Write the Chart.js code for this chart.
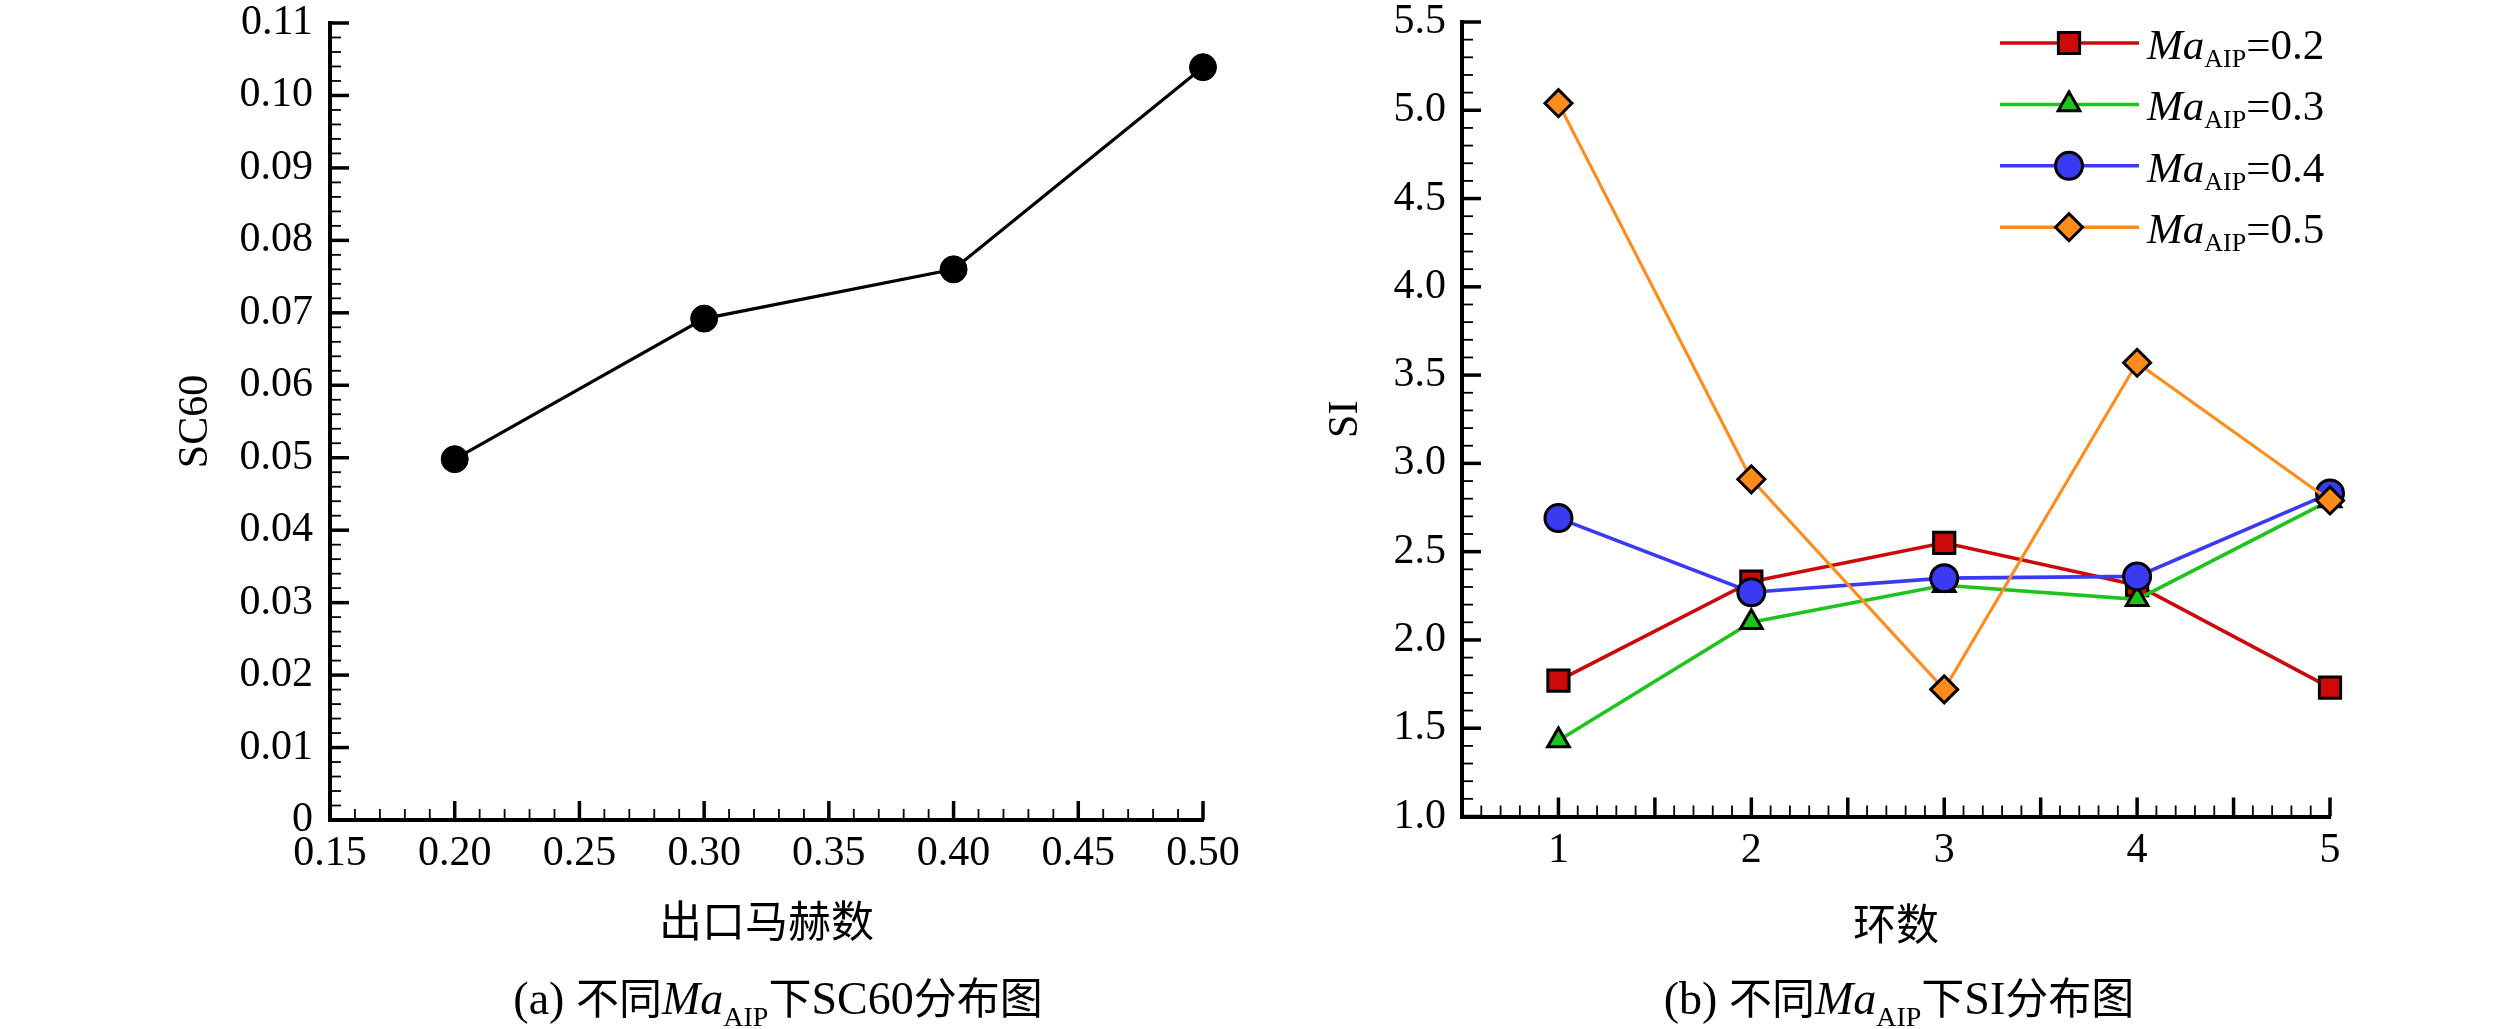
<!DOCTYPE html>
<html>
<head>
<meta charset="utf-8">
<script src="https://cdn.jsdelivr.net/npm/chart.js@4.4.1/dist/chart.umd.min.js"></script>
<style>
    html, body { margin: 0; padding: 0; background: #fff; }
    #wrap { position: relative; width: 2519px; height: 1029px; background: #fff; overflow: hidden; }
    canvas { position: absolute; top: 0; }
    .cap {
        position: absolute;
        top: 971px;
        transform: translateX(-50%);
        font: 46px/48px "Liberation Serif", "Times New Roman", serif;
        color: #000;
        white-space: nowrap;
    }
    .cap .cjk { font-family: "Noto Sans CJK SC", sans-serif; font-size: 43px; }
    .cap sub { font-size: 28px; vertical-align: baseline; position: relative; top: 12px; }
</style>
</head>
<body>
<div id="wrap">
    <canvas id="sc60Chart" width="1260" height="1029" style="left:0"></canvas>
    <canvas id="siChart" width="1259" height="1029" style="left:1260px"></canvas>
    <div class="cap" style="left:778px">(a) <span class="cjk">不同</span><i>Ma</i><sub>AIP</sub><span class="cjk">下</span>SC60<span class="cjk">分布图</span></div>
    <div class="cap" style="left:1899px">(b) <span class="cjk">不同</span><i>Ma</i><sub>AIP</sub><span class="cjk">下</span>SI<span class="cjk">分布图</span></div>
</div>
<script>
// Chart (a): SC60 vs outlet Mach number
const outletMach = [0.20, 0.30, 0.40, 0.50];
const sc60Values = [0.0498, 0.0692, 0.0760, 0.1039];
const sc60XTicks = [0.15, 0.20, 0.25, 0.30, 0.35, 0.40, 0.45, 0.50];
const sc60YTicks = [0, 0.01, 0.02, 0.03, 0.04, 0.05, 0.06, 0.07, 0.08, 0.09, 0.10, 0.11];

// Chart (b): SI per ring for each Ma_AIP
const rings = [1, 2, 3, 4, 5];
const siMa02 = [1.77, 2.33, 2.55, 2.31, 1.73];
const siMa03 = [1.43, 2.10, 2.31, 2.23, 2.79];
const siMa04 = [2.69, 2.27, 2.35, 2.36, 2.83];
const siMa05 = [5.04, 2.91, 1.72, 3.57, 2.79];
const machLabels = ['0.2', '0.3', '0.4', '0.5'];
const siXTicks = [1, 2, 3, 4, 5];
const siYTicks = [1.0, 1.5, 2.0, 2.5, 3.0, 3.5, 4.0, 4.5, 5.0, 5.5];

const serif = '"Liberation Serif", "Times New Roman", "Noto Sans CJK SC", serif';
const tickFont = { family: serif, size: 42, lineHeight: 1 };
const titleFont = { family: serif, size: 43, lineHeight: 1 };

function toPoints(xs, ys) {
    return xs.map((x, i) => ({ x: x, y: ys[i] }));
}

// inward major + minor tick marks, placed through the chart's own scales
const innerTicks = {
    id: 'innerTicks',
    beforeDatasetsDraw(chart, args, opts) {
        const ctx = chart.ctx;
        const area = chart.chartArea;
        ctx.save();
        ctx.strokeStyle = '#000';
        ['x', 'y'].forEach(key => {
            const scale = chart.scales[key];
            const spec = opts[key];
            const n = Math.round((scale.max - scale.min) / spec.minor);
            for (let i = 0; i <= n; i++) {
                const off = i * spec.minor;
                const r = off / spec.major;
                const major = Math.abs(r - Math.round(r)) < 1e-6;
                const len = major ? 19 : 11;
                const p = scale.getPixelForValue(scale.min + off);
                ctx.lineWidth = major ? 3.5 : 1.8;
                ctx.beginPath();
                if (key === 'x') {
                    ctx.moveTo(p, area.bottom);
                    ctx.lineTo(p, area.bottom - len);
                } else {
                    ctx.moveTo(area.left, p);
                    ctx.lineTo(area.left + len, p);
                }
                ctx.stroke();
            }
        });
        ctx.restore();
    }
};

// legend with italic Ma and subscript AIP
const machLegend = {
    id: 'machLegend',
    afterDraw(chart) {
        const ctx = chart.ctx;
        const right = chart.chartArea.right;
        const x1 = right - 330, x2 = right - 191, mx = right - 261, tx = right - 183;
        ctx.save();
        chart.data.datasets.forEach((ds, i) => {
            const y = 43 + i * 61.4;
            ctx.strokeStyle = ds.borderColor;
            ctx.lineWidth = 3.5;
            ctx.beginPath();
            ctx.moveTo(x1, y);
            ctx.lineTo(x2, y);
            ctx.stroke();
            ctx.fillStyle = ds.pointBackgroundColor;
            ctx.strokeStyle = '#000';
            ctx.lineWidth = ds.pointBorderWidth;
            Chart.helpers.drawPoint(ctx, {
                pointStyle: ds.pointStyle,
                radius: ds.pointRadius,
                rotation: 0,
                borderWidth: ds.pointBorderWidth
            }, mx, y);

            const base = y + 16;
            let x = tx;
            ctx.fillStyle = '#000';
            ctx.textAlign = 'left';
            ctx.textBaseline = 'alphabetic';
            ctx.font = 'italic 43px ' + serif;
            ctx.fillText('Ma', x, base);
            x += ctx.measureText('Ma').width;
            ctx.font = '26px ' + serif;
            ctx.fillText('AIP', x, base + 8);
            x += ctx.measureText('AIP').width;
            ctx.font = '43px ' + serif;
            ctx.fillText(ds.label.replace('MaAIP', ''), x, base);
        });
        ctx.restore();
    }
};

function clearPadding(s) {
    s.paddingTop = 0;
    s.paddingBottom = 0;
    s.paddingLeft = 0;
    s.paddingRight = 0;
}

function axisX(min, max, ticks, fmt, title, height, titlePad) {
    return {
        type: 'linear',
        min: min,
        max: max,
        afterBuildTicks: s => { s.ticks = ticks.map(v => ({ value: v })); },
        afterFit: s => { s.height = height; clearPadding(s); },
        ticks: { font: tickFont, color: '#000', padding: 13, maxRotation: 0, autoSkip: false, callback: fmt },
        grid: { display: false, drawTicks: false },
        border: { display: true, color: '#000', width: 4 },
        title: { display: true, text: title, color: '#000', font: titleFont, padding: { top: 0, bottom: titlePad } }
    };
}

function axisY(min, max, ticks, fmt, title, width, titlePad, labelPad) {
    return {
        type: 'linear',
        min: min,
        max: max,
        afterBuildTicks: s => { s.ticks = ticks.map(v => ({ value: v })); },
        afterFit: s => { s.width = width; clearPadding(s); },
        ticks: { font: tickFont, color: '#000', padding: labelPad, autoSkip: false, callback: fmt },
        grid: { display: false, drawTicks: false },
        border: { display: true, color: '#000', width: 4 },
        title: { display: true, text: title, color: '#000', font: { family: serif, size: 42, lineHeight: 1 }, padding: { top: titlePad, bottom: 0 } }
    };
}

function initSc60Chart() {
    const ctx = document.getElementById('sc60Chart').getContext('2d');
    new Chart(ctx, {
        type: 'line',
        data: {
            datasets: [{
                label: 'SC60',
                data: toPoints(outletMach, sc60Values),
                borderColor: '#000',
                borderWidth: 3.2,
                pointStyle: 'circle',
                pointRadius: 13.5,
                pointBackgroundColor: '#000',
                pointBorderColor: '#000',
                pointBorderWidth: 1,
                tension: 0,
                clip: false
            }]
        },
        options: {
            responsive: false,
            animation: false,
            devicePixelRatio: 1,
            layout: { padding: { left: 0, right: 57, top: 23, bottom: 0 } },
            plugins: {
                legend: { display: false },
                tooltip: { enabled: false },
                innerTicks: { x: { major: 0.05, minor: 0.01 }, y: { major: 0.01, minor: 0.002 } }
            },
            scales: {
                x: axisX(0.15, 0.50, sc60XTicks, v => v.toFixed(2), '出口马赫数', 209, 82),
                y: axisY(0, 0.11, sc60YTicks, v => v === 0 ? '0' : v.toFixed(2), 'SC60', 330, 175, 17)
            }
        },
        plugins: [innerTicks]
    });
}

function siSet(ys, label, color, style, radius, lineWidth, order) {
    return {
        label: 'MaAIP=' + label,
        data: toPoints(rings, ys),
        borderColor: color,
        borderWidth: lineWidth,
        pointStyle: style,
        pointRadius: radius,
        pointBackgroundColor: color,
        pointBorderColor: '#000',
        pointBorderWidth: 3,
        tension: 0,
        clip: false,
        order: order
    };
}

function initSiChart() {
    const ctx = document.getElementById('siChart').getContext('2d');
    new Chart(ctx, {
        type: 'line',
        data: {
            datasets: [
                siSet(siMa02, machLabels[0], '#cc0a0a', 'rect', 15, 3.6, 4),
                siSet(siMa03, machLabels[1], '#1ec41e', 'triangle', 12.5, 3.6, 3),
                siSet(siMa04, machLabels[2], '#3a3af2', 'circle', 13.5, 3.6, 2),
                siSet(siMa05, machLabels[3], '#ff8c1a', 'rectRot', 13.5, 3, 1)
            ]
        },
        options: {
            responsive: false,
            animation: false,
            devicePixelRatio: 1,
            layout: { padding: { left: 0, right: 189, top: 22, bottom: 0 } },
            plugins: {
                legend: { display: false },
                tooltip: { enabled: false },
                innerTicks: { x: { major: 0.5, minor: 0.1 }, y: { major: 0.5, minor: 0.1 } }
            },
            scales: {
                x: axisX(0.5, 5, siXTicks, v => String(v), '环数', 212.5, 79),
                y: axisY(1, 5.5, siYTicks, v => v.toFixed(1), 'SI', 202, 65, 16)
            }
        },
        plugins: [innerTicks, machLegend]
    });
}

initSc60Chart();
initSiChart();
</script>
</body>
</html>
